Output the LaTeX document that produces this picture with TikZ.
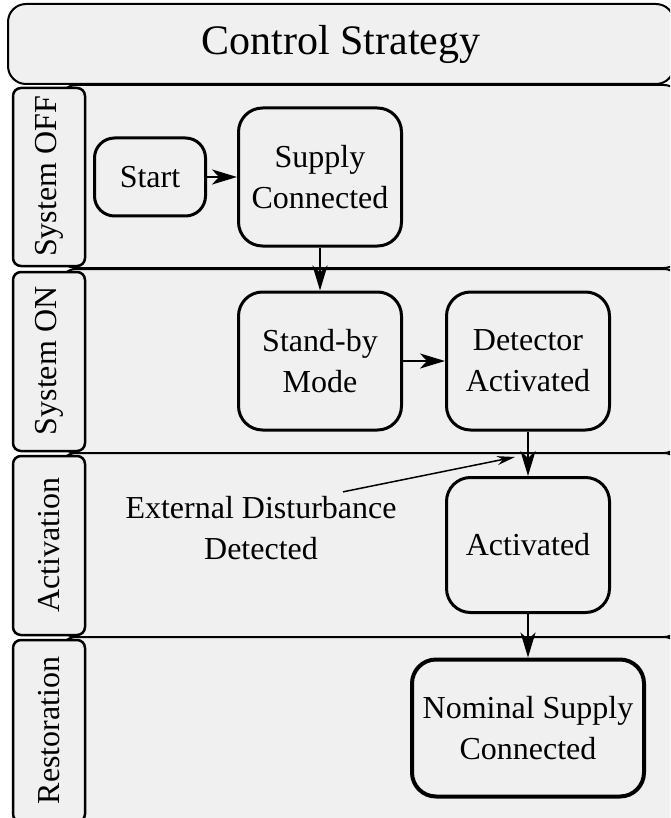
\documentclass[tikz,border=0pt]{standalone}
\usepackage{fontspec}
\setmainfont{Liberation Serif}
\usetikzlibrary{arrows.meta}
\definecolor{lanegray}{HTML}{F0F0F0}
\tikzset{
  lane/.style={draw, fill=lanegray, line width=1pt, rounded corners=8pt},
  lanelabel/.style={draw, fill=lanegray, line width=1.25pt, rounded corners=4pt},
  titlebox/.style={draw, fill=lanegray, line width=1pt, rounded corners=9pt,
    minimum width=333pt, minimum height=40pt, font=\fontsize{21}{25}\selectfont},
  state/.style={draw, fill=lanegray, line width=1.5pt, rounded corners=12pt,
    align=center, inner sep=0pt, minimum width=81.5pt, minimum height=69pt},
  flow/.style={line width=1.25pt, -{Stealth[length=12.5pt,width=7.5pt,inset=3.5pt]}},
  hint/.style={line width=0.75pt, -{Stealth[length=9pt,width=4.5pt]}},
}
\begin{document}
\begin{tikzpicture}[x=0.5pt,y=-0.5pt,font=\fontsize{16}{20.5}\selectfont]
  \useasboundingbox (0,0) rectangle (670,818);
  \clip (0,0) rectangle (670,818);
  \node[titlebox] (title) at (341,44) {Control Strategy};
  % swim lanes
  \foreach \ya/\yb/\lbl [count=\i] in {85/268/System OFF, 269/453/System ON,
      453/637/Activation, 637/824/Restoration} {
    \draw[lane] (60,\ya) rectangle (680,\yb);
    \draw[lanelabel] (13,\ya+3) rectangle (85,\yb-2);
    \node[rotate=90] (lane\i) at (49,{(\ya+\yb)/2}) {\lbl};
  }
  % states
  \node[state, minimum width=55.5pt, minimum height=39pt, rounded corners=10pt] (start) at (150,177) {Start};
  \node[state] (supply) at (320,177) {Supply\\Connected};
  \node[state] (standby) at (320,361) {Stand-by\\Mode};
  \node[state] (detector) at (528,361) {Detector\\Activated};
  \node[state, minimum height=67.5pt] (activated) at (528,545) {Activated};
  \node[state, minimum width=116pt, minimum height=68.5pt, line width=2pt] (nominal) at (528,728) {Nominal Supply\\Connected};
  \node[align=center, inner sep=2pt] (disturb) at (261,528) {External Disturbance\\Detected};
  \coordinate (hit) at (515,457);
  \begin{scope}[flow]
    \draw (start) to (supply);
    \draw (supply) to (standby);
    \draw (standby) to (detector);
    \draw (detector) to (activated);
    \draw (activated) to (nominal);
  \end{scope}
  \draw[hint] ([xshift=41pt]disturb.north) to (hit);
\end{tikzpicture}
\end{document}
